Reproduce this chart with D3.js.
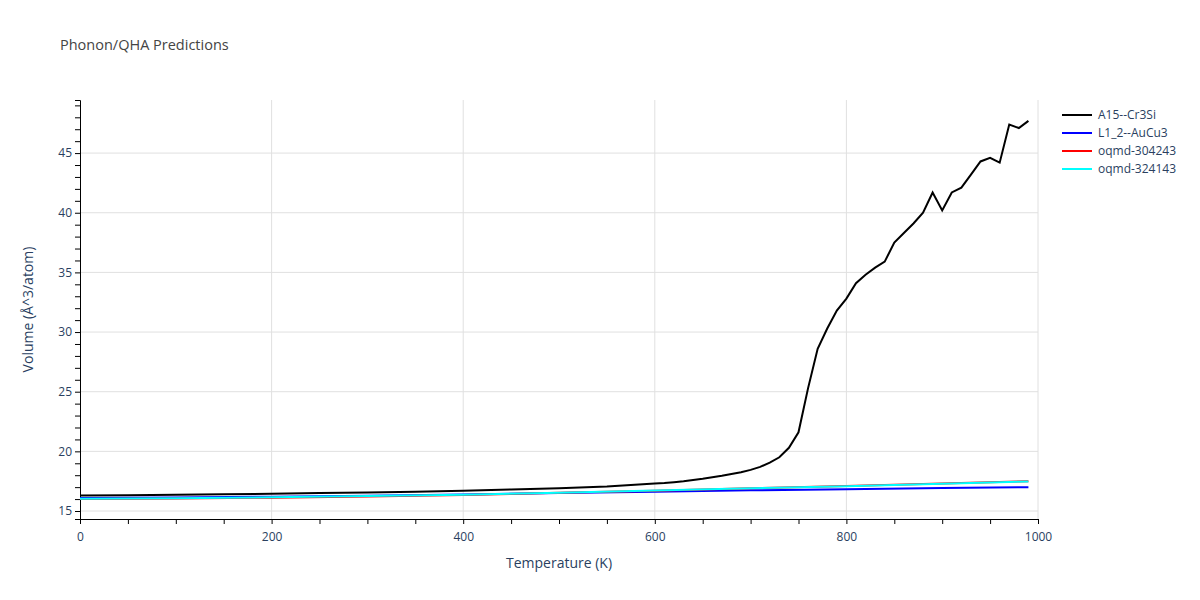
<!DOCTYPE html>
<html><head><meta charset="utf-8">
<script src="https://cdn.jsdelivr.net/npm/d3@7"></script>
<style>body{margin:0;background:#fff}svg{font-family:"Open Sans",sans-serif}</style>
</head><body><svg id="c" width="1200" height="600"></svg>
<script>
const seriesNames=["A15--Cr3Si","L1_2--AuCu3","oqmd-304243","oqmd-324143"];
const colors=["#000000","#0000ff","#ff0000","#00ffff"];
const tBlack=[0,50,100,150,200,250,300,350,400,450,500,550,600,610,620,630,640,650,660,670,680,690,700,710,720,730,740,750,760,770,780,790,800,810,820,830,840,850,860,870,880,890,900,910,920,930,940,950,960,970,980,990];
const vBlack=[16.3,16.33,16.36,16.4,16.45,16.5,16.55,16.62,16.7,16.8,16.9,17.05,17.3,17.35,17.42,17.5,17.6,17.7,17.82,17.95,18.1,18.25,18.45,18.7,19.05,19.5,20.3,21.6,25.3,28.6,30.3,31.8,32.8,34.1,34.8,35.4,35.9,37.5,38.3,39.1,40.0,41.7,40.2,41.7,42.1,43.2,44.3,44.6,44.2,47.4,47.1,47.7];
const tOther=[0,100,200,300,400,500,600,700,800,900,990];
const vBlue=[16.1,16.13,16.2,16.28,16.38,16.5,16.62,16.73,16.83,16.92,17.0];
const vRed=[16.0,16.05,16.12,16.22,16.35,16.52,16.7,16.9,17.1,17.3,17.5];
const vCyan=[16.02,16.07,16.15,16.25,16.37,16.53,16.72,16.9,17.08,17.28,17.48];
const xTicks=[0,200,400,600,800,1000];
const yTicks=[15,20,25,30,35,40,45];
const series=[[tBlack,vBlack],[tOther,vBlue],[tOther,vRed],[tOther,vCyan]];
const svg=d3.select("#c");
const L=80,R=1038,T=100,B=519;
const x=d3.scaleLinear().domain([0,1000]).range([L,R]);
const y=d3.scaleLinear().domain([14.33,49.45]).range([B,T]);
svg.append("g").selectAll("line").data(xTicks.slice(1)).join("line")
 .attr("x1",d=>x(d)).attr("x2",d=>x(d)).attr("y1",T).attr("y2",B).attr("stroke","#e0e0e0");
svg.append("g").selectAll("line").data(yTicks).join("line")
 .attr("x1",L).attr("x2",R).attr("y1",d=>y(d)).attr("y2",d=>y(d)).attr("stroke","#e0e0e0");
const xa=svg.append("g").attr("transform",`translate(0,${B})`);
xa.call(d3.axisBottom(x).tickValues(d3.range(0,1001,50)).tickSize(5).tickFormat(d=>xTicks.includes(d)?d:""));
const ya=svg.append("g").attr("transform",`translate(${L},0)`);
ya.call(d3.axisLeft(y).tickValues(d3.range(15,50,1)).tickSize(5).tickFormat(d=>yTicks.includes(d)?d:""));
[xa,ya].forEach(a=>{a.select(".domain").attr("stroke","#000");a.selectAll(".tick line").attr("stroke","#000");
 a.selectAll("text").attr("fill","#2a3f5f").style("font-size","12px").style("font-family","Open Sans");});
xa.selectAll("text").attr("dy","1.2em");
const line=d3.line().x(d=>x(d[0])).y(d=>y(d[1]));
[0,1,2,3].forEach(i=>{const [ts,vs]=series[i];
 svg.append("path").datum(ts.map((t,j)=>[t,vs[j]])).attr("d",line).attr("fill","none").attr("stroke",colors[i]).attr("stroke-width",2);});
svg.append("text").attr("x",60).attr("y",50).text("Phonon/QHA Predictions").attr("fill","#444").style("font-size","14.5px");
svg.append("text").attr("x",(L+R)/2).attr("y",568).attr("text-anchor","middle").text("Temperature (K)").attr("fill","#2a3f5f").style("font-size","14px");
svg.append("text").attr("transform",`translate(33,${(T+B)/2}) rotate(-90)`).attr("text-anchor","middle").text("Volume (Å^3/atom)").attr("fill","#2a3f5f").style("font-size","14px");
const lg=svg.append("g").selectAll("g").data(seriesNames).join("g").attr("transform",(d,i)=>`translate(1062,${115+i*18})`);
lg.append("line").attr("x1",0).attr("x2",30).attr("stroke",(d,i)=>colors[i]).attr("stroke-width",2);
lg.append("text").attr("x",36).attr("dy","0.35em").text(d=>d).attr("fill","#2a3f5f").style("font-size","12px");
</script></body></html>
